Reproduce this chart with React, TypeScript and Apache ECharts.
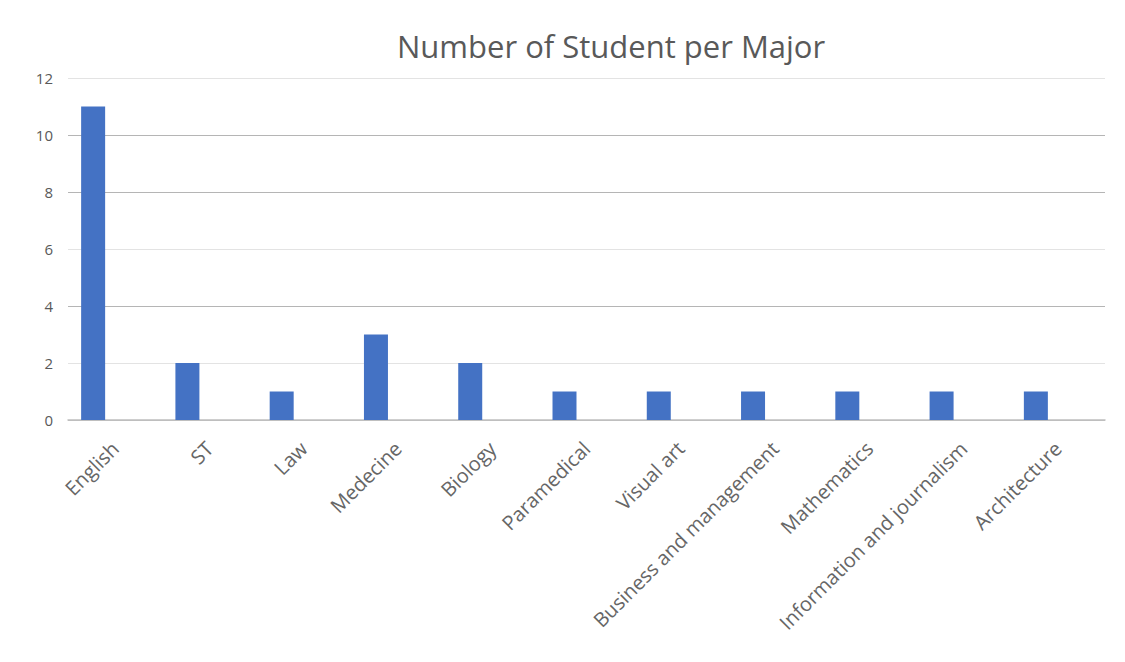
import React, { useEffect, useRef } from "react";
import * as echarts from "echarts";

const categories = [
  "English",
  "ST",
  "Law",
  "Medecine",
  "Biology",
  "Paramedical",
  "Visual art",
  "Business and management",
  "Mathematics",
  "Information and journalism",
  "Architecture",
];
const students = [11, 2, 1, 3, 2, 1, 1, 1, 1, 1, 1];
const yTicks = { min: 0, max: 12, interval: 2 };

export default function App() {
  const ref = useRef<HTMLDivElement>(null);
  useEffect(() => {
    if (!ref.current) return;
    const chart = echarts.init(ref.current, null, { renderer: "svg" });
    const font = "Open Sans";
    chart.setOption({
      animation: false,
      backgroundColor: "#ffffff",
      title: {
        text: "Number of Student per Major",
        left: 392,
        top: 25,
        textStyle: {
          fontFamily: font,
          fontSize: 31,
          fontWeight: "normal",
          color: "#595959",
        },
      },
      grid: [
        { left: 46, right: 42, top: 78, bottom: 242, containLabel: false },
        { left: 68, right: 20, top: 78, bottom: 242, containLabel: false },
      ],
      xAxis: [
        {
          type: "category",
          gridIndex: 0,
          data: categories,
          show: false,
        },
        {
          type: "category",
          gridIndex: 1,
          data: categories,
          axisLine: { show: true, lineStyle: { color: "#bfbfbf", width: 1.5 } },
          axisTick: { show: false },
          axisLabel: {
            rotate: 45,
            interval: 0,
            margin: 25,
            fontFamily: font,
            fontSize: 20,
            color: "#666666",
          },
          splitLine: { show: false },
        },
      ],
      yAxis: [
        {
          type: "value",
          gridIndex: 0,
          min: yTicks.min,
          max: yTicks.max,
          interval: yTicks.interval,
          show: false,
          splitLine: { show: false },
        },
        {
          type: "value",
          gridIndex: 1,
          min: yTicks.min,
          max: yTicks.max,
          interval: yTicks.interval,
          axisLine: { show: false },
          axisTick: { show: false },
          axisLabel: {
            margin: 15,
            fontFamily: font,
            fontSize: 15,
            color: "#595959",
          },
          splitLine: {
            lineStyle: {
              color: ["#bfbfbf", "#e3e3e3", "#b5b5b5", "#e3e3e3", "#b5b5b5", "#b5b5b5", "#e3e3e3"],
              width: 1.2,
            },
          },
        },
      ],
      series: [
        {
          type: "bar",
          xAxisIndex: 0,
          yAxisIndex: 0,
          data: students,
          barWidth: 24,
          itemStyle: { color: "#4472c4" },
        },
      ],
    });
    return () => chart.dispose();
  }, []);
  return (
    <div
      ref={ref}
      style={{ position: "absolute", left: 0, top: 0, width: 1125, height: 662 }}
    />
  );
}
